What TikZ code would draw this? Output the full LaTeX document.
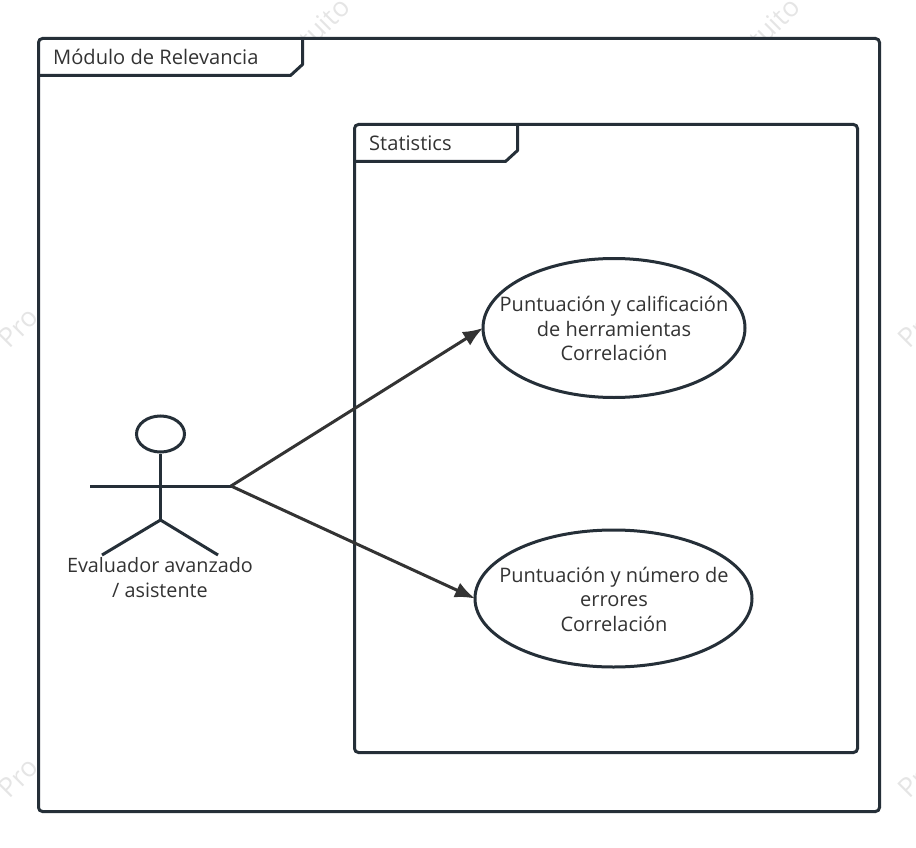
\documentclass[tikz,border=0pt]{standalone}
\usepackage{fontspec}
\setmainfont{Open Sans}
\usepackage{tikz}
\usetikzlibrary{arrows.meta, shapes.geometric}
\definecolor{frameline}{HTML}{252F38}
\definecolor{textline}{HTML}{333333}
\tikzset{%
  >={Latex[width=16pt,length=20pt]},
  % Specifications for style of nodes:
       frame/.style = {rectangle, rounded corners=4pt, draw=frameline, line width=3pt,
                       fill=white, anchor=north west, inner sep=0pt, outer sep=0pt},
     tabline/.style = {draw=frameline, line width=3pt, line join=round},
    tabtitle/.style = {anchor=west, inner sep=0pt, text=textline, font=\fontsize{20.1}{24.5}\selectfont},
     usecase/.style = {ellipse, draw=frameline, line width=3pt, fill=white, inner sep=0pt, outer sep=0pt},
     usetext/.style = {align=center, inner sep=0pt, text=textline, font=\fontsize{20}{24.5}\selectfont},
   actorname/.style = {usetext, font=\fontsize{19.8}{24.5}\selectfont},
    stickman/.style = {draw=frameline, line width=3pt},
   watermark/.style = {rotate=45, inner sep=0pt, text=black!10, font=\fontsize{27}{27}\selectfont},
        link/.style = {->, draw=textline, line width=3pt},
}
\begin{document}
\begin{tikzpicture}[x=1pt, y=-1pt]
  \useasboundingbox (0,0) rectangle (916,848);
  % Watermark left over at the margins
  \foreach \wx/\wy in {3/343, 3/793, 903/343, 903/793}
    \node [watermark, anchor=west] at (\wx,\wy) {Pro};
  \foreach \wx in {345, 795}
    \node [watermark, anchor=east] at (\wx,2) {tuito};
  % Specification of nodes (position, etc.)
  \node (modulo) [frame, minimum width=841pt, minimum height=773pt] at (38.5,38.5) {};
  \node (stats)  [frame, minimum width=503pt, minimum height=628pt] at (354.5,124.5) {};
  \node (modulotitle) [tabtitle] at (53,57) {Módulo de Relevancia};
  \node (statstitle)  [tabtitle] at (369,143.5) {Statistics};
  \node (uso1) [usecase, minimum width=262pt, minimum height=139pt] at (614,328) {};
  \node (uso1text) [usetext] at (614,328.5) {Puntuación y calificación\\de herramientas\\Correlación};
  \node (uso2) [usecase, minimum width=277pt, minimum height=137pt] at (613.5,598.5) {};
  \node (uso2text) [usetext] at (614,599) {Puntuación y número de\\errores\\Correlación};
  \node (head) [ellipse, stickman, minimum width=48pt, minimum height=36pt, inner sep=0pt] at (160.5,434) {};
  \node (actor) [actorname] at (160,577.5) {Evaluador avanzado\\/ asistente};
  \coordinate (hip)       at (160.5,520);
  \coordinate (leftarm)   at (90,486);
  \coordinate (rightarm)  at (231,486);
  \coordinate (leftfoot)  at (102,555);
  \coordinate (rightfoot) at (218,555);
  % Tabs of the two frames
  \draw [tabline] (modulo.north west) ++(264,0) -- ++(0,26) -- ++(-12,11) -- ++(-252,0);
  \draw [tabline] (stats.north west) ++(163,0) -- ++(0,26) -- ++(-12,11) -- ++(-151,0);
  % Stick figure
  \draw [stickman] (head) -- (hip);
  \draw [stickman] (leftarm) -- (rightarm);
  \draw [stickman] (leftfoot) -- (hip) -- (rightfoot);
  % Specification of lines between nodes specified above
  \draw [link] (rightarm) -- (uso1.west);
  \draw [link] (rightarm) -- (uso2.west);
\end{tikzpicture}
\end{document}
